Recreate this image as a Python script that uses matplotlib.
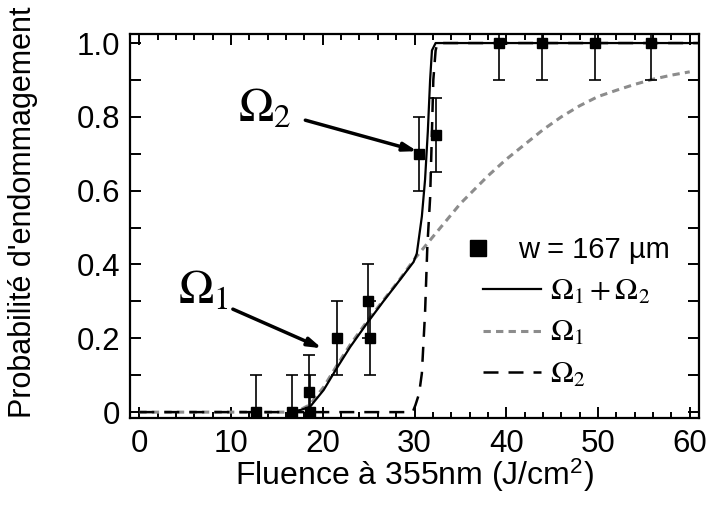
import numpy as np
import matplotlib
matplotlib.use("Agg")
import matplotlib.pyplot as plt
from matplotlib.lines import Line2D

plt.rcParams['font.family'] = ['Liberation Sans', 'DejaVu Sans']
plt.rcParams['mathtext.fontset'] = 'stix'

# measured damage probability, w = 167 um
fluence = [12.7, 16.7, 18.55, 18.6, 21.6, 24.9, 25.2, 30.5, 32.3, 39.2, 43.9, 49.7, 55.8]
prob = [0, 0, 0.055, 0, 0.2, 0.3, 0.2, 0.7, 0.75, 1.0, 1.0, 1.0, 1.0]
prob_err = [0.1] * len(fluence)

# model curves
x_tot = [16.3, 16.8, 17.6, 18.6, 20.1, 21.5, 23.0, 24.8, 26.6, 28.4, 29.9, 30.25, 30.4,
         30.8, 31.15, 31.45, 31.7, 31.9, 32.3, 40, 50, 61]
y_tot = [0, 0.002, 0.006, 0.014, 0.06, 0.118, 0.177, 0.24, 0.30, 0.358, 0.407, 0.43, 0.457,
         0.53, 0.63, 0.76, 0.90, 0.98, 1.0, 1.0, 1.0, 1.0]

x_om1 = [0, 5, 10, 15, 16.3, 17.5, 18.6, 20.1, 21.5, 23.0, 24.8, 26.6, 28.4, 30, 31, 32, 33,
         34, 35, 36, 38, 40, 42, 44, 46, 48, 50, 52, 54, 56, 58, 60]
y_om1 = [0, 0, 0, 0, 0, 0.006, 0.02, 0.068, 0.125, 0.183, 0.245, 0.303, 0.36, 0.415, 0.445,
         0.475, 0.505, 0.535, 0.565, 0.59, 0.64, 0.685, 0.725, 0.765, 0.80, 0.83, 0.855,
         0.872, 0.888, 0.902, 0.913, 0.922]

x_om2 = [0, 10, 20, 29.8, 30.1, 30.5, 30.8, 31.15, 31.4, 31.7, 31.9, 32.05, 32.3, 32.5, 40, 50, 61]
y_om2 = [0, 0, 0, 0, 0.019, 0.05, 0.105, 0.27, 0.45, 0.58, 0.76, 0.90, 0.98, 1.0, 1.0, 1.0, 1.0]

fig = plt.figure(figsize=(7.11, 5.18), dpi=100)
ax = fig.add_axes([0.183, 0.193, 0.800, 0.741])

l1, = ax.plot(x_om1, y_om1, color='#8c8c8c', lw=2.2, dashes=(2.4, 1.7), zorder=2)
l2, = ax.plot(x_om2, y_om2, color='black', lw=1.8, dashes=(6, 4), zorder=3)
l12, = ax.plot(x_tot, y_tot, color='black', lw=1.6, zorder=4)
ax.errorbar(fluence, prob, yerr=prob_err, fmt='s', color='black', ms=6.5,
            ecolor='black', elinewidth=1.2, capsize=4, capthick=1.2, zorder=5)

# annotations
arrow = dict(arrowstyle='-|>,head_length=0.8,head_width=0.25', lw=2.5, color='black',
             shrinkA=0, shrinkB=0)
ax.annotate('', xy=(30.3, 0.707), xytext=(18.1, 0.791), arrowprops=arrow)
ax.annotate('', xy=(19.9, 0.173), xytext=(10.2, 0.279), arrowprops=arrow)
ax.text(10.8, 0.786, r'$\Omega_2$', fontsize=34, ha='left', va='baseline')
ax.text(4.25, 0.295, r'$\Omega_1$', fontsize=34, ha='left', va='baseline')

ax.set_xlim(-1, 61)
ax.set_ylim(-0.016, 1.024)
ax.set_xticks(np.arange(0, 61, 10))
ax.set_xticks(np.arange(0, 61, 2), minor=True)
ax.set_yticks([0, 0.2, 0.4, 0.6, 0.8, 1.0])
ax.set_yticklabels(['0', '0.2', '0.4', '0.6', '0.8', '1.0'])
ax.set_yticks(np.arange(0, 1.01, 0.1), minor=True)

ax.tick_params(which='both', direction='in', top=True, right=True, width=1.4)
ax.tick_params(which='major', length=8, labelsize=22.5)
ax.tick_params(axis='x', which='major', pad=8)
ax.tick_params(axis='y', which='major', pad=7)
ax.tick_params(axis='x', which='minor', length=4.5)
ax.tick_params(axis='y', which='minor', length=8)
for s in ax.spines.values():
    s.set_linewidth(1.6)

ax.set_xlabel('Fluence à 355nm (J/cm$^{\\mathregular{2}}$)', fontsize=23, labelpad=-2)
ax.set_ylabel("Probabilité d'endommagement", fontsize=22)
ax.yaxis.set_label_coords(-0.162, 0.536)

# legend: marker entry and line entries placed separately
mk = Line2D([], [], ls='none', marker='s', color='black', ms=12)
leg1 = ax.legend([mk], ['w = 167 µm'], loc='center left', bbox_to_anchor=(0.586, 0.4375),
                 frameon=False, fontsize=21, handlelength=1.0, handletextpad=0.87,
                 borderpad=0, borderaxespad=0)
ax.add_artist(leg1)
ax.legend([l12, l1, l2], [r'$\Omega_1+\Omega_2$', r'$\Omega_1$', r'$\Omega_2$'],
          loc='center left', bbox_to_anchor=(0.620, 0.221), frameon=False, fontsize=22,
          handlelength=1.9, handletextpad=0.3, labelspacing=0.38,
          borderpad=0, borderaxespad=0)

fig.savefig('out.png', dpi=100)
